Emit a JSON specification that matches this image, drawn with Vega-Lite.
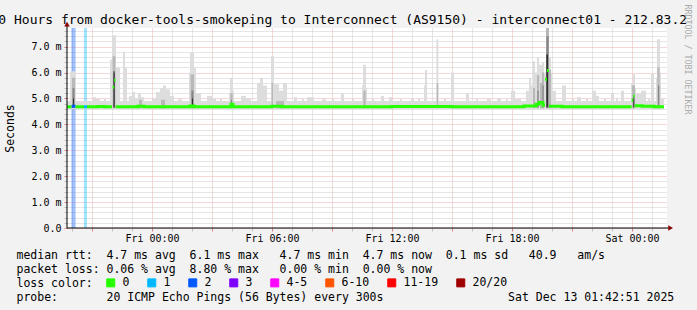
{
  "$schema": "https://vega.github.io/schema/vega-lite/v6.json",
  "width": 600,
  "height": 200,
  "autosize": {"type": "none"},
  "padding": {"left": 67, "top": 28, "right": 30, "bottom": 82},
  "background": "#f2f2f2",
  "config": {
    "view": {"fill": "#ffffff", "stroke": null},
    "font": "DejaVu Sans Mono",
    "axis": {"labelFont": "DejaVu Sans Mono", "titleFont": "DejaVu Sans Mono", "titleFontWeight": "normal", "labelColor": "#000000", "titleColor": "#000000"}
  },
  "datasets": {
    "loss": [
      {"a": 19.97, "b": 20.18, "loss": "2"},
      {"a": 20.60, "b": 20.75, "loss": "1"}
    ],
    "smoke": [
      {"a": 19.75, "b": 49.60, "lo": 4.58, "hi": 4.90, "s": 1},
      {"a": 19.90, "b": 20.20, "lo": 4.60, "hi": 6.05, "s": 1},
      {"a": 21.05, "b": 21.20, "lo": 4.60, "hi": 5.05, "s": 1},
      {"a": 21.20, "b": 21.40, "lo": 4.60, "hi": 4.98, "s": 1},
      {"a": 21.60, "b": 21.70, "lo": 4.60, "hi": 4.98, "s": 1},
      {"a": 21.90, "b": 22.00, "lo": 4.60, "hi": 6.50, "s": 1},
      {"a": 22.00, "b": 22.20, "lo": 4.60, "hi": 7.44, "s": 1},
      {"a": 22.20, "b": 22.40, "lo": 4.60, "hi": 6.20, "s": 1},
      {"a": 22.55, "b": 22.65, "lo": 4.60, "hi": 6.80, "s": 1},
      {"a": 22.65, "b": 22.75, "lo": 4.60, "hi": 6.20, "s": 1},
      {"a": 22.85, "b": 23.00, "lo": 4.60, "hi": 5.10, "s": 1},
      {"a": 23.00, "b": 23.15, "lo": 4.60, "hi": 5.25, "s": 1},
      {"a": 23.15, "b": 23.30, "lo": 4.60, "hi": 5.00, "s": 1},
      {"a": 23.30, "b": 23.45, "lo": 4.60, "hi": 5.20, "s": 1},
      {"a": 23.45, "b": 23.60, "lo": 4.60, "hi": 5.05, "s": 1},
      {"a": 24.00, "b": 24.20, "lo": 4.60, "hi": 5.00, "s": 1},
      {"a": 24.20, "b": 24.40, "lo": 4.60, "hi": 5.25, "s": 1},
      {"a": 24.40, "b": 24.55, "lo": 4.60, "hi": 5.40, "s": 1},
      {"a": 24.55, "b": 24.70, "lo": 4.60, "hi": 5.50, "s": 1},
      {"a": 24.70, "b": 24.90, "lo": 4.60, "hi": 5.35, "s": 1},
      {"a": 24.90, "b": 25.10, "lo": 4.60, "hi": 5.10, "s": 1},
      {"a": 25.30, "b": 25.50, "lo": 4.60, "hi": 4.97, "s": 1},
      {"a": 25.85, "b": 25.90, "lo": 4.60, "hi": 6.00, "s": 1},
      {"a": 25.90, "b": 26.10, "lo": 4.60, "hi": 6.78, "s": 1},
      {"a": 26.10, "b": 26.20, "lo": 4.60, "hi": 6.20, "s": 1},
      {"a": 26.20, "b": 26.45, "lo": 4.60, "hi": 5.20, "s": 1},
      {"a": 26.75, "b": 27.00, "lo": 4.60, "hi": 5.10, "s": 1},
      {"a": 27.00, "b": 27.20, "lo": 4.60, "hi": 5.00, "s": 1},
      {"a": 27.40, "b": 27.50, "lo": 4.60, "hi": 4.98, "s": 1},
      {"a": 27.85, "b": 27.90, "lo": 4.60, "hi": 5.20, "s": 1},
      {"a": 27.90, "b": 28.05, "lo": 4.60, "hi": 5.80, "s": 1},
      {"a": 28.05, "b": 28.10, "lo": 4.60, "hi": 5.30, "s": 1},
      {"a": 28.45, "b": 28.70, "lo": 4.60, "hi": 5.10, "s": 1},
      {"a": 28.70, "b": 28.95, "lo": 4.60, "hi": 5.00, "s": 1},
      {"a": 29.25, "b": 29.40, "lo": 4.60, "hi": 5.60, "s": 1},
      {"a": 29.40, "b": 29.55, "lo": 4.60, "hi": 5.80, "s": 1},
      {"a": 29.55, "b": 29.75, "lo": 4.60, "hi": 5.50, "s": 1},
      {"a": 29.95, "b": 30.10, "lo": 4.60, "hi": 6.63, "s": 1},
      {"a": 30.10, "b": 30.35, "lo": 4.60, "hi": 5.55, "s": 1},
      {"a": 30.35, "b": 30.55, "lo": 4.60, "hi": 5.30, "s": 1},
      {"a": 30.55, "b": 30.75, "lo": 4.60, "hi": 5.60, "s": 1},
      {"a": 31.10, "b": 31.25, "lo": 4.60, "hi": 5.05, "s": 1},
      {"a": 31.50, "b": 31.60, "lo": 4.60, "hi": 4.98, "s": 1},
      {"a": 31.75, "b": 32.10, "lo": 4.60, "hi": 5.05, "s": 1},
      {"a": 32.50, "b": 32.70, "lo": 4.60, "hi": 4.97, "s": 1},
      {"a": 33.00, "b": 33.10, "lo": 4.60, "hi": 5.00, "s": 1},
      {"a": 33.45, "b": 33.60, "lo": 4.60, "hi": 5.20, "s": 1},
      {"a": 34.00, "b": 34.10, "lo": 4.60, "hi": 4.98, "s": 1},
      {"a": 34.50, "b": 34.55, "lo": 4.60, "hi": 5.50, "s": 1},
      {"a": 34.55, "b": 34.70, "lo": 4.60, "hi": 6.30, "s": 1},
      {"a": 34.70, "b": 34.75, "lo": 4.60, "hi": 5.40, "s": 1},
      {"a": 35.00, "b": 35.10, "lo": 4.60, "hi": 5.00, "s": 1},
      {"a": 35.45, "b": 35.60, "lo": 4.60, "hi": 5.10, "s": 1},
      {"a": 35.85, "b": 36.00, "lo": 4.60, "hi": 5.05, "s": 1},
      {"a": 36.40, "b": 36.50, "lo": 4.60, "hi": 4.97, "s": 1},
      {"a": 36.95, "b": 37.10, "lo": 4.60, "hi": 5.00, "s": 1},
      {"a": 37.30, "b": 37.40, "lo": 4.60, "hi": 5.00, "s": 1},
      {"a": 37.60, "b": 37.65, "lo": 4.60, "hi": 5.50, "s": 1},
      {"a": 37.65, "b": 37.75, "lo": 4.60, "hi": 6.10, "s": 1},
      {"a": 38.20, "b": 38.22, "lo": 4.60, "hi": 5.50, "s": 1},
      {"a": 38.22, "b": 38.32, "lo": 4.60, "hi": 7.28, "s": 1},
      {"a": 38.32, "b": 38.35, "lo": 4.60, "hi": 5.60, "s": 1},
      {"a": 38.60, "b": 38.70, "lo": 4.60, "hi": 4.98, "s": 1},
      {"a": 38.95, "b": 39.10, "lo": 4.60, "hi": 6.00, "s": 1},
      {"a": 39.70, "b": 39.85, "lo": 4.60, "hi": 5.20, "s": 1},
      {"a": 40.20, "b": 40.30, "lo": 4.60, "hi": 5.00, "s": 1},
      {"a": 40.75, "b": 40.95, "lo": 4.60, "hi": 4.98, "s": 1},
      {"a": 41.25, "b": 41.45, "lo": 4.60, "hi": 5.00, "s": 1},
      {"a": 41.70, "b": 41.80, "lo": 4.60, "hi": 4.97, "s": 1},
      {"a": 41.95, "b": 42.15, "lo": 4.60, "hi": 5.30, "s": 1},
      {"a": 42.15, "b": 42.45, "lo": 4.60, "hi": 4.98, "s": 1},
      {"a": 42.70, "b": 42.85, "lo": 4.60, "hi": 5.30, "s": 1},
      {"a": 42.85, "b": 42.95, "lo": 4.60, "hi": 5.80, "s": 1},
      {"a": 42.95, "b": 43.05, "lo": 4.60, "hi": 5.50, "s": 1},
      {"a": 43.05, "b": 43.15, "lo": 4.60, "hi": 6.44, "s": 1},
      {"a": 43.15, "b": 43.25, "lo": 4.60, "hi": 6.00, "s": 1},
      {"a": 43.25, "b": 43.35, "lo": 4.60, "hi": 6.60, "s": 1},
      {"a": 43.35, "b": 43.50, "lo": 4.60, "hi": 6.30, "s": 1},
      {"a": 43.50, "b": 43.60, "lo": 4.60, "hi": 6.40, "s": 1},
      {"a": 43.60, "b": 43.70, "lo": 4.60, "hi": 6.00, "s": 1},
      {"a": 43.70, "b": 43.85, "lo": 4.60, "hi": 7.72, "s": 1},
      {"a": 43.85, "b": 43.95, "lo": 4.60, "hi": 6.60, "s": 1},
      {"a": 43.95, "b": 44.00, "lo": 4.60, "hi": 6.00, "s": 1},
      {"a": 44.00, "b": 44.20, "lo": 4.60, "hi": 5.30, "s": 1},
      {"a": 44.50, "b": 44.70, "lo": 4.60, "hi": 5.50, "s": 1},
      {"a": 45.00, "b": 45.10, "lo": 4.60, "hi": 5.00, "s": 1},
      {"a": 45.25, "b": 45.45, "lo": 4.60, "hi": 5.05, "s": 1},
      {"a": 45.70, "b": 45.80, "lo": 4.60, "hi": 4.98, "s": 1},
      {"a": 46.00, "b": 46.20, "lo": 4.60, "hi": 5.30, "s": 1},
      {"a": 46.20, "b": 46.35, "lo": 4.60, "hi": 5.10, "s": 1},
      {"a": 46.60, "b": 46.70, "lo": 4.60, "hi": 5.00, "s": 1},
      {"a": 46.95, "b": 47.10, "lo": 4.60, "hi": 5.20, "s": 1},
      {"a": 47.20, "b": 47.30, "lo": 4.60, "hi": 5.02, "s": 1},
      {"a": 47.45, "b": 47.60, "lo": 4.60, "hi": 5.30, "s": 1},
      {"a": 47.95, "b": 48.05, "lo": 4.60, "hi": 5.60, "s": 1},
      {"a": 48.05, "b": 48.15, "lo": 4.60, "hi": 5.93, "s": 1},
      {"a": 48.15, "b": 48.20, "lo": 4.60, "hi": 5.40, "s": 1},
      {"a": 48.20, "b": 48.45, "lo": 4.60, "hi": 5.20, "s": 1},
      {"a": 48.45, "b": 48.70, "lo": 4.60, "hi": 5.30, "s": 1},
      {"a": 48.80, "b": 48.90, "lo": 4.60, "hi": 5.00, "s": 1},
      {"a": 48.95, "b": 49.10, "lo": 4.60, "hi": 5.95, "s": 1},
      {"a": 49.20, "b": 49.25, "lo": 4.60, "hi": 5.80, "s": 1},
      {"a": 49.25, "b": 49.40, "lo": 4.60, "hi": 7.28, "s": 1},
      {"a": 49.40, "b": 49.45, "lo": 4.60, "hi": 6.00, "s": 1},
      {"a": 49.45, "b": 49.60, "lo": 4.60, "hi": 4.98, "s": 1},
      {"a": 20.00, "b": 20.15, "lo": 4.62, "hi": 5.80, "s": 2},
      {"a": 22.03, "b": 22.17, "lo": 4.62, "hi": 6.63, "s": 2},
      {"a": 23.35, "b": 23.50, "lo": 4.62, "hi": 4.95, "s": 2},
      {"a": 24.45, "b": 24.65, "lo": 4.62, "hi": 4.95, "s": 2},
      {"a": 25.93, "b": 26.10, "lo": 4.62, "hi": 5.93, "s": 2},
      {"a": 27.92, "b": 28.03, "lo": 4.62, "hi": 5.20, "s": 2},
      {"a": 29.98, "b": 30.05, "lo": 4.62, "hi": 5.60, "s": 2},
      {"a": 30.20, "b": 30.60, "lo": 4.62, "hi": 4.90, "s": 2},
      {"a": 34.57, "b": 34.68, "lo": 4.62, "hi": 5.30, "s": 2},
      {"a": 38.24, "b": 38.30, "lo": 4.62, "hi": 5.60, "s": 2},
      {"a": 43.05, "b": 43.15, "lo": 4.62, "hi": 5.40, "s": 2},
      {"a": 43.25, "b": 43.35, "lo": 4.62, "hi": 5.90, "s": 2},
      {"a": 43.40, "b": 43.50, "lo": 4.62, "hi": 5.60, "s": 2},
      {"a": 43.50, "b": 43.60, "lo": 4.62, "hi": 6.00, "s": 2},
      {"a": 43.70, "b": 43.85, "lo": 4.62, "hi": 7.72, "s": 2},
      {"a": 43.85, "b": 43.95, "lo": 4.62, "hi": 6.10, "s": 2},
      {"a": 48.00, "b": 48.15, "lo": 4.62, "hi": 5.50, "s": 2},
      {"a": 49.27, "b": 49.38, "lo": 4.62, "hi": 6.20, "s": 2},
      {"a": 20.03, "b": 20.12, "lo": 4.64, "hi": 5.40, "s": 3},
      {"a": 22.05, "b": 22.15, "lo": 4.64, "hi": 6.06, "s": 3},
      {"a": 25.97, "b": 26.07, "lo": 4.64, "hi": 5.30, "s": 3},
      {"a": 27.95, "b": 28.00, "lo": 4.64, "hi": 4.95, "s": 3},
      {"a": 43.27, "b": 43.33, "lo": 4.64, "hi": 5.30, "s": 3},
      {"a": 43.52, "b": 43.58, "lo": 4.64, "hi": 5.50, "s": 3},
      {"a": 43.72, "b": 43.83, "lo": 4.64, "hi": 7.40, "s": 3},
      {"a": 48.05, "b": 48.12, "lo": 4.64, "hi": 5.10, "s": 3},
      {"a": 49.30, "b": 49.36, "lo": 4.64, "hi": 5.50, "s": 3},
      {"a": 20.05, "b": 20.10, "lo": 4.66, "hi": 5.00, "s": 4},
      {"a": 22.08, "b": 22.13, "lo": 4.66, "hi": 6.00, "s": 4},
      {"a": 26.00, "b": 26.05, "lo": 4.66, "hi": 5.00, "s": 4},
      {"a": 43.72, "b": 43.80, "lo": 4.66, "hi": 6.70, "s": 4},
      {"a": 48.07, "b": 48.11, "lo": 4.66, "hi": 5.00, "s": 4}
    ],
    "median": [
      {"seg": 1, "t": 19.75, "v": 4.68, "loss": "0"},
      {"seg": 1, "t": 19.98, "v": 4.68, "loss": "0"},
      {"seg": 2, "t": 19.98, "v": 4.70, "loss": "2"},
      {"seg": 2, "t": 20.18, "v": 4.70, "loss": "2"},
      {"seg": 3, "t": 20.18, "v": 4.68, "loss": "0"},
      {"seg": 3, "t": 20.60, "v": 4.68, "loss": "0"},
      {"seg": 4, "t": 20.60, "v": 4.68, "loss": "1"},
      {"seg": 4, "t": 20.75, "v": 4.68, "loss": "1"},
      {"seg": 5, "t": 20.75, "v": 4.68, "loss": "0"},
      {"seg": 5, "t": 21.30, "v": 4.69, "loss": "0"},
      {"seg": 5, "t": 21.60, "v": 4.68, "loss": "0"},
      {"seg": 5, "t": 22.00, "v": 4.68, "loss": "0"},
      {"seg": 6, "t": 22.03, "v": 5.44, "loss": "0"},
      {"seg": 6, "t": 22.11, "v": 5.44, "loss": "0"},
      {"seg": 7, "t": 22.11, "v": 5.70, "loss": "0"},
      {"seg": 7, "t": 22.18, "v": 5.70, "loss": "0"},
      {"seg": 8, "t": 22.18, "v": 4.68, "loss": "0"},
      {"seg": 8, "t": 23.30, "v": 4.70, "loss": "0"},
      {"seg": 8, "t": 23.60, "v": 4.68, "loss": "0"},
      {"seg": 8, "t": 25.90, "v": 4.71, "loss": "0"},
      {"seg": 8, "t": 26.10, "v": 4.68, "loss": "0"},
      {"seg": 8, "t": 27.95, "v": 4.78, "loss": "0"},
      {"seg": 8, "t": 28.05, "v": 4.68, "loss": "0"},
      {"seg": 8, "t": 30.00, "v": 4.70, "loss": "0"},
      {"seg": 8, "t": 30.50, "v": 4.68, "loss": "0"},
      {"seg": 8, "t": 36.00, "v": 4.69, "loss": "0"},
      {"seg": 8, "t": 39.00, "v": 4.68, "loss": "0"},
      {"seg": 8, "t": 42.60, "v": 4.71, "loss": "0"},
      {"seg": 8, "t": 43.20, "v": 4.78, "loss": "0"},
      {"seg": 8, "t": 43.35, "v": 4.84, "loss": "0"},
      {"seg": 8, "t": 43.55, "v": 4.74, "loss": "0"},
      {"seg": 8, "t": 43.65, "v": 4.74, "loss": "0"},
      {"seg": 9, "t": 43.65, "v": 5.74, "loss": "0"},
      {"seg": 9, "t": 43.75, "v": 5.74, "loss": "0"},
      {"seg": 10, "t": 43.75, "v": 6.08, "loss": "0"},
      {"seg": 10, "t": 43.85, "v": 6.08, "loss": "0"},
      {"seg": 11, "t": 43.85, "v": 4.70, "loss": "0"},
      {"seg": 11, "t": 44.50, "v": 4.68, "loss": "0"},
      {"seg": 11, "t": 47.98, "v": 4.68, "loss": "0"},
      {"seg": 12, "t": 47.98, "v": 4.93, "loss": "0"},
      {"seg": 12, "t": 48.06, "v": 4.93, "loss": "0"},
      {"seg": 13, "t": 48.06, "v": 5.10, "loss": "0"},
      {"seg": 13, "t": 48.13, "v": 5.10, "loss": "0"},
      {"seg": 14, "t": 48.13, "v": 4.72, "loss": "0"},
      {"seg": 14, "t": 48.50, "v": 4.70, "loss": "0"},
      {"seg": 14, "t": 49.10, "v": 4.68, "loss": "0"},
      {"seg": 14, "t": 49.60, "v": 4.68, "loss": "0"}
    ],
    "axisline": [
      {"a": 19.75, "b": 49.93, "lo": 0, "hi": 0},
      {"a": 19.75, "b": 19.75, "lo": 0, "hi": 7.87}
    ],
    "arrows": [
      {"a": 49.93, "lo": 0, "d": "right"},
      {"a": 19.75, "lo": 7.87, "d": "up"}
    ]
  },
  "layer": [
    {
      "data": {"name": "loss"},
      "mark": {"type": "rect", "opacity": 0.37},
      "encoding": {
        "x": {"field": "a", "type": "quantitative", "scale": {"domain": [19.75, 49.75], "nice": false, "zero": false}, "axis": null},
        "x2": {"field": "b"},
        "color": {
          "field": "loss", "type": "nominal",
          "scale": {"domain": ["0", "1", "2", "3", "4-5", "6-10", "11-19", "20/20"], "range": ["#26ff00", "#00b8ff", "#0059ff", "#7e00ff", "#ff00ff", "#ff5500", "#ff0000", "#a10000"]},
          "legend": {
            "orient": "none", "legendX": 38, "legendY": 249, "direction": "horizontal", "columns": 8, "title": null,
            "symbolType": "square", "symbolSize": 64, "symbolStrokeColor": "#000000", "symbolStrokeWidth": 1, "symbolOpacity": 1,
            "labelFont": "DejaVu Sans Mono", "labelFontSize": 11.5, "labelColor": "#000000", "labelOffset": 6, "columnPadding": 15, "padding": 0, "labelLimit": 200,
            "encode": {"symbols": {"update": {"opacity": {"value": 1}, "fillOpacity": {"value": 1}, "stroke": {"value": "#000000"}, "strokeWidth": {"value": 1}}}}
          }
        }
      }
    },
    {
      "data": {"name": "smoke"},
      "mark": {"type": "rect", "clip": true},
      "encoding": {
        "x": {
          "field": "a", "type": "quantitative", "scale": {"domain": [19.75, 49.75], "nice": false, "zero": false},
          "axis": {
            "orient": "bottom",
            "values": [20, 21, 22, 23, 24, 25, 26, 27, 28, 29, 30, 31, 32, 33, 34, 35, 36, 37, 38, 39, 40, 41, 42, 43, 44, 45, 46, 47, 48, 49],
            "domain": false,
            "grid": true,
            "gridColor": {"condition": {"test": "datum.value % 3 === 0", "value": "#eab0b0"}, "value": "#cccccc"},
            "gridDash": [1, 1],
            "ticks": true,
            "tickSize": 3,
            "tickColor": {"condition": {"test": "datum.value % 3 === 0", "value": "#e08080"}, "value": "#c0c0c0"},
            "labelExpr": "datum.value === 24 ? 'Fri 00:00' : datum.value === 30 ? 'Fri 06:00' : datum.value === 36 ? 'Fri 12:00' : datum.value === 42 ? 'Fri 18:00' : datum.value === 48 ? 'Sat 00:00' : ''",
            "labelFontSize": 10,
            "labelPadding": 2,
            "labelOverlap": false,
            "labelFlush": false,
            "title": [
              "median rtt:\u00a0\u00a04.7 ms avg\u00a0\u00a06.1 ms max\u00a0\u00a0\u00a04.7 ms min\u00a0\u00a04.7 ms now\u00a0\u00a00.1 ms sd\u00a0\u00a0\u00a040.9\u00a0\u00a0\u00a0am/s",
              "packet loss: 0.06 % avg\u00a0\u00a08.80 % max\u00a0\u00a0\u00a00.00 % min\u00a0\u00a00.00 % now",
              "loss color:",
              "probe:\u00a0\u00a0\u00a0\u00a0\u00a0\u00a0\u00a020 ICMP Echo Pings (56 Bytes) every 300s\u00a0\u00a0\u00a0\u00a0\u00a0\u00a0\u00a0\u00a0\u00a0\u00a0\u00a0\u00a0\u00a0\u00a0\u00a0\u00a0\u00a0\u00a0Sat Dec 13 01:42:51 2025"
            ],
            "titleFontSize": 11.5,
            "titleLineHeight": 14,
            "titleX": -51,
            "titleY": 30.5,
            "titleAlign": "left",
            "titleAnchor": "start",
            "titleBaseline": "alphabetic",
            "titleLimit": 1000
          }
        },
        "x2": {"field": "b"},
        "y": {
          "field": "lo", "type": "quantitative", "scale": {"domain": [0, 7.72], "nice": false, "zero": false},
          "axis": {
            "orient": "left",
            "values": [0, 0.2, 0.4, 0.6, 0.8, 1, 1.2, 1.4, 1.6, 1.8, 2, 2.2, 2.4, 2.6, 2.8, 3, 3.2, 3.4, 3.6, 3.8, 4, 4.2, 4.4, 4.6, 4.8, 5, 5.2, 5.4, 5.6, 5.8, 6, 6.2, 6.4, 6.6, 6.8, 7, 7.2, 7.4, 7.6],
            "domain": false,
            "grid": true,
            "gridColor": {"condition": {"test": "abs(datum.value - round(datum.value)) < 0.01", "value": "#eab0b0"}, "value": "#cccccc"},
            "gridDash": [1, 1],
            "tickSize": 3,
            "tickColor": {"condition": {"test": "abs(datum.value - round(datum.value)) < 0.01", "value": "#e08080"}, "value": "#c0c0c0"},
            "labelExpr": "abs(datum.value - round(datum.value)) < 0.01 ? (datum.value === 0 ? '0.0\u00a0\u00a0' : format(datum.value, '.1f') + ' m') : ''",
            "labelFontSize": 10,
            "labelPadding": 3,
            "labelOverlap": false,
            "title": "Seconds",
            "titleFontSize": 11.5,
            "titleAngle": 270,
            "titleX": -56.5,
            "titleY": 100,
            "titleAlign": "center",
            "titleBaseline": "middle"
          }
        },
        "y2": {"field": "hi"},
        "fill": {"field": "s", "type": "ordinal", "scale": {"domain": [1, 2, 3, 4], "range": ["#dddddd", "#b8b8b8", "#858585", "#2e2e2e"]}, "legend": null}
      }
    },
    {
      "data": {"name": "median"},
      "mark": {"type": "line", "interpolate": "step-after", "strokeWidth": 3, "strokeCap": "butt", "clip": true},
      "encoding": {
        "x": {
          "field": "t", "type": "quantitative", "scale": {"domain": [19.75, 49.75], "nice": false, "zero": false},
          "axis": {
            "orient": "top", "domain": false, "ticks": false, "labels": false, "grid": false,
            "title": "30 Hours from docker-tools-smokeping to Interconnect (AS9150) - interconnect01 - 212.83.2",
            "titleFontSize": 13, "titleX": -77, "titleY": -4.5, "titleAlign": "left", "titleAnchor": "start", "titleBaseline": "alphabetic", "titleLimit": 1000
          }
        },
        "y": {
          "field": "v", "type": "quantitative", "scale": {"domain": [0, 7.72], "nice": false, "zero": false},
          "axis": {
            "orient": "right", "domain": false, "ticks": false, "labels": false, "grid": false,
            "title": "RRDTOOL / TOBI OETIKER",
            "titleAngle": 90, "titleFontSize": 8.3, "titleColor": "#aaaaaa", "titleX": 19, "titleY": 31, "titleAlign": "center", "titleBaseline": "middle"
          }
        },
        "color": {"field": "loss", "type": "nominal", "scale": {"domain": ["0", "1", "2", "3", "4-5", "6-10", "11-19", "20/20"], "range": ["#26ff00", "#00b8ff", "#0059ff", "#7e00ff", "#ff00ff", "#ff5500", "#ff0000", "#a10000"]}, "legend": null},
        "detail": {"field": "seg", "type": "nominal"}
      }
    },
    {
      "data": {"name": "axisline"},
      "mark": {"type": "rule", "color": "#000000", "strokeWidth": 1},
      "encoding": {
        "x": {"field": "a", "type": "quantitative", "scale": {"domain": [19.75, 49.75], "nice": false, "zero": false}, "axis": null},
        "x2": {"field": "b"},
        "y": {"field": "lo", "type": "quantitative", "scale": {"domain": [0, 7.72], "nice": false, "zero": false}, "axis": null},
        "y2": {"field": "hi"}
      }
    },
    {
      "data": {"name": "arrows"},
      "mark": {"type": "point", "filled": true, "opacity": 1, "size": 30, "color": "#8b0000"},
      "encoding": {
        "x": {"field": "a", "type": "quantitative", "scale": {"domain": [19.75, 49.75], "nice": false, "zero": false}, "axis": null},
        "y": {"field": "lo", "type": "quantitative", "scale": {"domain": [0, 7.72], "nice": false, "zero": false}, "axis": null},
        "shape": {"field": "d", "type": "nominal", "scale": {"domain": ["right", "up"], "range": ["triangle-right", "triangle-up"]}, "legend": null}
      }
    }
  ],
  "resolve": {"axis": {"x": "independent", "y": "independent"}}
}
